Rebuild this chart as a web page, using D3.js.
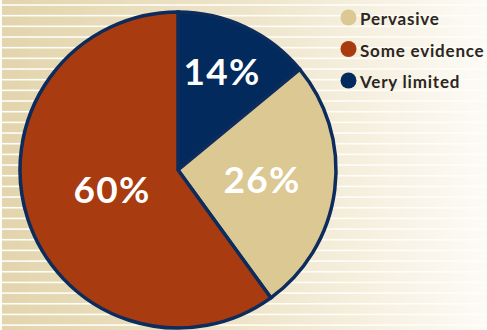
<!DOCTYPE html>
<html><head><meta charset="utf-8">
<script src="https://cdn.jsdelivr.net/npm/d3@7"></script>
<style>html,body{margin:0;padding:0;background:#fff;}svg{display:block;}</style>
</head><body>
<svg id="chart" width="487" height="330"></svg>
<script>
const categories = ["Very limited", "Pervasive", "Some evidence"];
const values = [14, 26, 60];
const legendOrder = ["Pervasive", "Some evidence", "Very limited"];
const colors = {"Very limited": "#022a5c", "Pervasive": "#dbc893", "Some evidence": "#a83b10"};

const W = 487, H = 330;
const svg = d3.select("#chart");
const defs = svg.append("defs");
const grad = defs.append("linearGradient").attr("id", "bg").attr("x1", "0").attr("x2", "1").attr("y1", "0").attr("y2", "0");
grad.append("stop").attr("offset", "0").attr("stop-color", "#e2d5ad");
grad.append("stop").attr("offset", "0.5").attr("stop-color", "#eee4c9");
grad.append("stop").attr("offset", "1").attr("stop-color", "#fdfbf6");
svg.append("rect").attr("width", W).attr("height", H).attr("fill", "url(#bg)");
// stripes
const stripeY = d3.range(4.2, H, 10.67);
svg.append("g").selectAll("rect").data(stripeY).join("rect")
  .attr("x", 0).attr("y", d => d).attr("width", W).attr("height", 1.6)
  .attr("fill", "#fffdf7");
svg.append("rect").attr("x", 0).attr("y", 0).attr("width", 2).attr("height", H).attr("fill", "#fffdf7");

const cx = 178, cy = 170, r = 158;
const pie = d3.pie().sort(null).value(d => d.v);
const data = categories.map((c, i) => ({c, v: values[i]}));
const arcs = pie(data);
const arc = d3.arc().innerRadius(0).outerRadius(r);
const g = svg.append("g").attr("transform", `translate(${cx},${cy})`);
g.selectAll("path").data(arcs).join("path")
  .attr("d", arc).attr("fill", d => colors[d.data.c])
  .attr("stroke", "#0b2c5c").attr("stroke-width", 3.5).attr("stroke-linejoin", "miter");

const labelPos = {"Very limited": [44, -100], "Pervasive": [84, 8], "Some evidence": [-66, 18]};
g.selectAll("text").data(arcs).join("text")
  .attr("x", d => labelPos[d.data.c][0]).attr("y", d => labelPos[d.data.c][1])
  .attr("text-anchor", "middle").attr("dominant-baseline", "central")
  .attr("font-family", "Lato, 'Open Sans', sans-serif").attr("font-weight", "bold")
  .attr("font-size", 37).attr("letter-spacing", 1.2).attr("fill", "#ffffff")
  .text(d => d.data.v + "%");

const lg = svg.append("g");
const ly = d3.scalePoint().domain(legendOrder).range([17.5, 80.5]);
lg.selectAll("circle").data(legendOrder).join("circle")
  .attr("cx", 348.5).attr("cy", d => ly(d)).attr("r", 8).attr("fill", d => colors[d]);
lg.selectAll("text").data(legendOrder).join("text")
  .attr("x", 360).attr("y", d => ly(d) + 7.5)
  .attr("font-family", "Lato, 'Open Sans', sans-serif").attr("font-weight", "bold")
  .attr("font-size", 17).attr("letter-spacing", 0.8).attr("fill", "#2b2622")
  .text(d => d);
</script>
</body></html>
